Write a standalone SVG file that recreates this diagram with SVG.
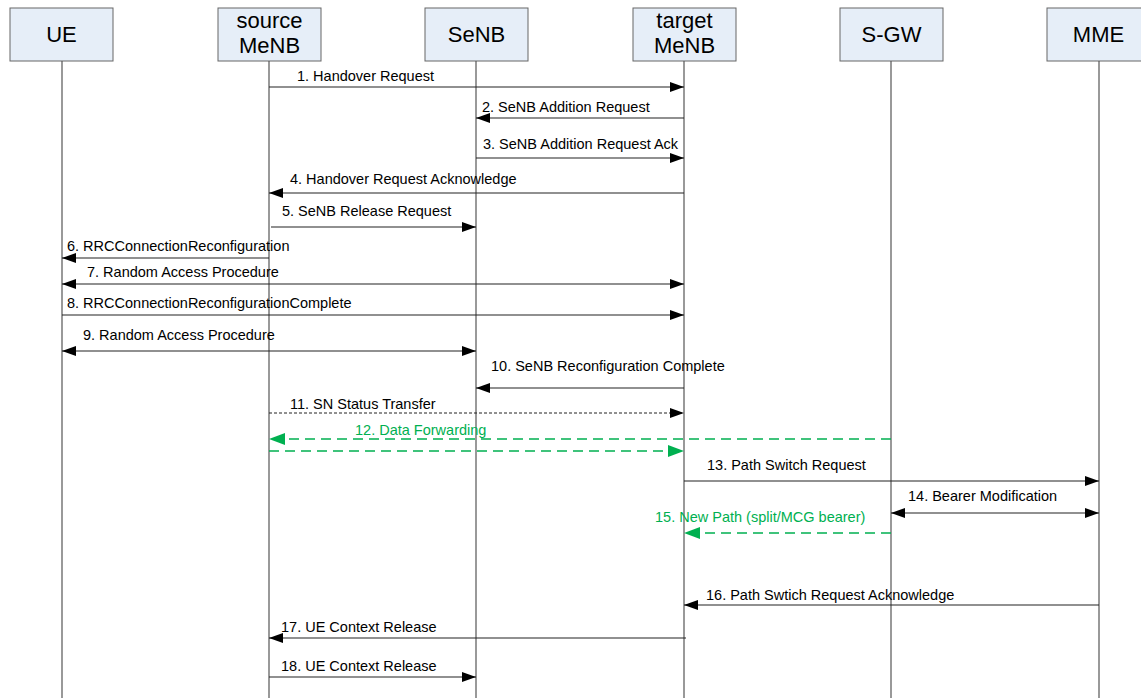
<svg xmlns="http://www.w3.org/2000/svg" width="1141" height="698" viewBox="0 0 1141 698">
<defs>
<marker id="ah" markerUnits="userSpaceOnUse" markerWidth="14" markerHeight="10" refX="14" refY="5" orient="auto-start-reverse"><path d="M0,0 L14,5 L0,10 z" fill="#000"/></marker>
<marker id="ahg" markerUnits="userSpaceOnUse" markerWidth="16" markerHeight="12" refX="16" refY="6" orient="auto-start-reverse"><path d="M0,0 L16,6 L0,12 z" fill="#00B050"/></marker>
<style>
.box{fill:#E6EEF8;stroke:#666;stroke-width:1}
.life{stroke:#555;stroke-width:1.2}
.hd{font-family:"Liberation Sans",Arial,sans-serif;font-size:22px;fill:#000;text-anchor:middle}
.lb{font-family:"Liberation Sans",Arial,sans-serif;font-size:14.5px;fill:#000}
.lg{font-family:"Liberation Sans",Arial,sans-serif;font-size:14.5px;fill:#00B050}
.m{stroke:#222;stroke-width:1.2;fill:none;marker-end:url(#ah)}
.d{stroke:#222;stroke-width:1.2;fill:none;marker-end:url(#ah);marker-start:url(#ah)}
.dot{stroke:#222;stroke-width:1;fill:none;stroke-dasharray:3,2;marker-end:url(#ah)}
.g{stroke:#00B050;stroke-width:1.6;fill:none;stroke-dasharray:10,6;marker-end:url(#ahg)}
</style>
</defs>
<rect width="1141" height="698" fill="#fff"/>
<g id="UE"><rect class="box" x="10" y="8" width="103" height="53"/><text class="hd" x="61.5" y="42">UE</text><line class="life" x1="62" y1="61" x2="62" y2="698"/></g>
<g id="sourceMeNB"><rect class="box" x="218" y="8" width="103" height="53"/><text class="hd" x="269.5" y="28">source</text><text class="hd" x="269.5" y="53">MeNB</text><line class="life" x1="269" y1="61" x2="269" y2="698"/></g>
<g id="SeNB"><rect class="box" x="425" y="8" width="103" height="53"/><text class="hd" x="476.5" y="42">SeNB</text><line class="life" x1="476" y1="61" x2="476" y2="698"/></g>
<g id="targetMeNB"><rect class="box" x="633" y="8" width="103" height="53"/><text class="hd" x="684.5" y="28">target</text><text class="hd" x="684.5" y="53">MeNB</text><line class="life" x1="684" y1="61" x2="684" y2="698"/></g>
<g id="SGW"><rect class="box" x="840" y="8" width="103" height="53"/><text class="hd" x="891.5" y="42">S-GW</text><line class="life" x1="891" y1="61" x2="891" y2="698"/></g>
<g id="MME"><rect class="box" x="1047" y="8" width="103" height="53"/><text class="hd" x="1098.5" y="42">MME</text><line class="life" x1="1099" y1="61" x2="1099" y2="698"/></g>
<g id="connectors">
<line class="m" x1="269" y1="87" x2="684" y2="87"/><text class="lb" x="297" y="81">1. Handover Request</text>
<line class="m" x1="684" y1="118" x2="476" y2="118"/><text class="lb" x="482" y="112">2. SeNB Addition Request</text>
<line class="m" x1="476" y1="158" x2="684" y2="158"/><text class="lb" x="483" y="149">3. SeNB Addition Request Ack</text>
<line class="m" x1="684" y1="193" x2="269" y2="193"/><text class="lb" x="290" y="184">4. Handover Request Acknowledge</text>
<line class="m" x1="271" y1="227" x2="476" y2="227"/><text class="lb" x="282" y="216">5. SeNB Release Request</text>
<line class="m" x1="269" y1="258" x2="62" y2="258"/><text class="lb" x="67" y="251">6. RRCConnectionReconfiguration</text>
<line class="d" x1="62" y1="284" x2="684" y2="284"/><text class="lb" x="87" y="277">7. Random Access Procedure</text>
<line class="m" x1="62" y1="315" x2="684" y2="315"/><text class="lb" x="67" y="308">8. RRCConnectionReconfigurationComplete</text>
<line class="d" x1="62" y1="351" x2="476" y2="351"/><text class="lb" x="83" y="340">9. Random Access Procedure</text>
<line class="m" x1="684" y1="388" x2="476" y2="388"/><text class="lb" x="491" y="371">10. SeNB Reconfiguration Complete</text>
<line class="dot" x1="269" y1="413" x2="684" y2="413"/><text class="lb" x="290" y="409">11. SN Status Transfer</text>
<line class="g" x1="891" y1="439" x2="269" y2="439"/><text class="lg" x="355" y="435">12. Data Forwarding</text>
<line class="g" x1="269" y1="451" x2="684" y2="451"/>
<line class="m" x1="684" y1="481" x2="1099" y2="481"/><text class="lb" x="707" y="470">13. Path Switch Request</text>
<line class="d" x1="891" y1="513" x2="1099" y2="513"/><text class="lb" x="908" y="501">14. Bearer Modification</text>
<line class="g" x1="891" y1="533" x2="684" y2="533"/><text class="lg" x="655" y="522">15. New Path (split/MCG bearer)</text>
<line class="m" x1="1099" y1="605" x2="684" y2="605"/><text class="lb" x="706" y="600">16. Path Swtich Request Acknowledge</text>
<line class="m" x1="686" y1="638" x2="269" y2="638"/><text class="lb" x="281" y="632">17. UE Context Release</text>
<line class="m" x1="269" y1="677" x2="476" y2="677"/><text class="lb" x="281" y="671">18. UE Context Release</text>
</g>
</svg>
